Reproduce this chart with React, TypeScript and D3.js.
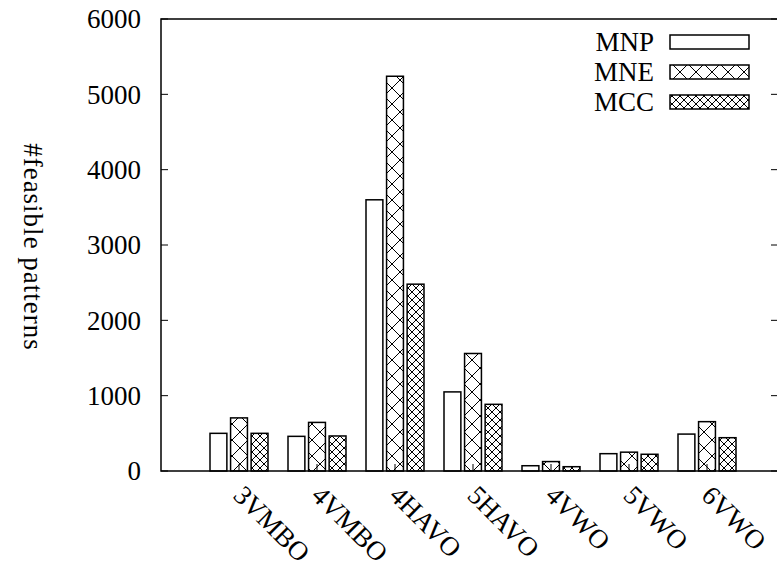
import React from "react";
import * as d3 from "d3";

const categories = ["3VMBO", "4VMBO", "4HAVO", "5HAVO", "4VWO", "5VWO", "6VWO"];
const seriesNames = ["MNP", "MNE", "MCC"];
const mnp = [500, 460, 3600, 1050, 70, 230, 490];
const mne = [705, 645, 5240, 1560, 125, 250, 655];
const mcc = [500, 465, 2480, 885, 57, 222, 442];
const yTicks = [0, 1000, 2000, 3000, 4000, 5000, 6000];

const W = 777;
const H = 574;
const margin = { left: 161, top: 19, right: 778, bottom: 471 };
const font = "'Liberation Serif', 'DejaVu Serif', serif";
const fs = 27;

export default function App() {
  const series = [mnp, mne, mcc];
  const y = d3.scaleLinear().domain([0, 6000]).range([margin.bottom, margin.top]);
  const x = d3
    .scaleBand<string>()
    .domain(categories)
    .range([200, 746])
    .paddingInner(0)
    .paddingOuter(0);
  const inner = d3
    .scaleBand<string>()
    .domain(seriesNames)
    .range([0, 58])
    .paddingInner(0.18);
  const bw = inner.bandwidth();
  const fills = ["#ffffff", "url(#patMNE)", "url(#patMCC)"];
  const groupCenter = (c: string) => (x(c) as number) + x.bandwidth() / 2;

  return (
    <svg width={W} height={H} style={{ display: "block", position: "absolute", left: 0, top: 0 }}>
      <defs>
        <pattern id="patMNE" patternUnits="userSpaceOnUse" width={16} height={16}>
          <rect width={16} height={16} fill="#fff" />
          <path d="M0,0 L16,16 M16,0 L0,16" stroke="#000" strokeWidth={1} />
        </pattern>
        <pattern id="patMCC" patternUnits="userSpaceOnUse" width={8} height={8}>
          <rect width={8} height={8} fill="#fff" />
          <path d="M0,0 L8,8 M8,0 L0,8" stroke="#000" strokeWidth={1} />
        </pattern>
      </defs>
      <rect width={W} height={H} fill="#fff" />

      {/* bars */}
      {categories.map((c, i) =>
        series.map((s, j) => {
          const x0 = groupCenter(c) - 29 + (inner(seriesNames[j]) as number);
          return (
            <rect
              key={c + j}
              x={x0}
              y={y(s[i])}
              width={bw}
              height={y(0) - y(s[i])}
              fill={fills[j]}
              stroke="#000"
              strokeWidth={1.5}
            />
          );
        })
      )}

      {/* frame */}
      <path
        d={`M${margin.left},${margin.top} L${margin.right},${margin.top} L${margin.right},${margin.bottom} L${margin.left},${margin.bottom} Z`}
        fill="none"
        stroke="#000"
        strokeWidth={1.5}
      />

      {/* y ticks */}
      {yTicks.map((t) => (
        <g key={t}>
          <line x1={margin.left} x2={margin.left + 7} y1={y(t)} y2={y(t)} stroke="#000" strokeWidth={1} />
          <line x1={margin.right - 7} x2={margin.right} y1={y(t)} y2={y(t)} stroke="#000" strokeWidth={1} />
          <text
            x={141}
            y={y(t)}
            dy="0.35em"
            textAnchor="end"
            fontFamily={font}
            fontSize={fs}
            fill="#000"
          >
            {t}
          </text>
        </g>
      ))}

      {/* x ticks and labels */}
      {categories.map((c) => (
        <g key={c}>
          <line x1={groupCenter(c)} x2={groupCenter(c)} y1={margin.bottom} y2={margin.bottom - 7} stroke="#000" strokeWidth={1} />
          <text
            transform={`translate(${groupCenter(c) - 7},${497}) rotate(45)`}
            fontFamily={font}
            fontSize={fs}
            fill="#000"
          >
            {c}
          </text>
        </g>
      ))}

      {/* y label */}
      <text
        transform={`translate(24,247) rotate(90)`}
        textAnchor="middle"
        fontFamily={font}
        fontSize={fs}
        letterSpacing={1}
        fill="#000"
      >
        #feasible patterns
      </text>

      {/* legend */}
      {seriesNames.map((n, j) => {
        const ly = 42 + j * 30;
        return (
          <g key={n}>
            <text x={654} y={ly} dy="0.35em" textAnchor="end" fontFamily={font} fontSize={fs} fill="#000">
              {n}
            </text>
            <rect x={670} y={ly - 7} width={79} height={14} fill={fills[j]} stroke="#000" strokeWidth={1.5} />
          </g>
        );
      })}
    </svg>
  );
}
